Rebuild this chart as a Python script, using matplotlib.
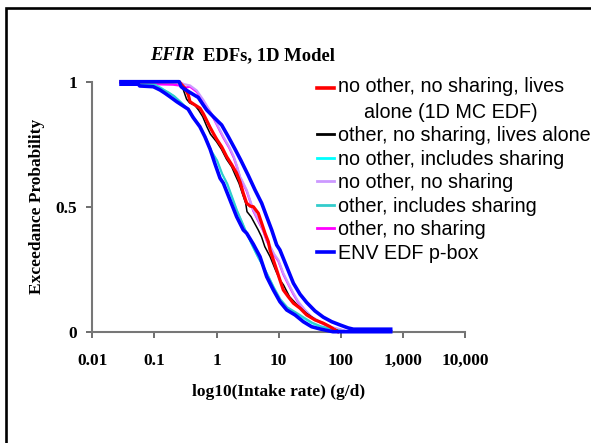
import matplotlib
matplotlib.use("Agg")
import matplotlib.pyplot as plt
from matplotlib.patches import Rectangle
from matplotlib.legend_handler import HandlerLine2D

# ---------------- data ----------------
x_ticks = [0.01, 0.1, 1, 10, 100, 1000, 10000]
x_tick_labels = ['0.01', '0.1', '1', '10', '100', '1,000', '10,000']
y_ticks = [0, 0.5, 1]
y_tick_labels = ['0', '0.5', '1']

labels = ['no other, no sharing, lives\nalone (1D MC EDF)',
          'other, no sharing, lives alone',
          'no other, includes sharing',
          'no other, no sharing',
          'other, includes sharing',
          'other, no sharing',
          'ENV EDF p-box']

red_x = [0.029, 0.25, 0.27, 0.311, 0.352, 0.374, 0.45, 0.542, 0.613, 0.695, 0.786, 0.887,
         1.007, 1.21, 1.46, 1.76, 2.11, 2.39, 2.70, 3.06, 3.5, 3.92, 4.71, 5.34, 6.04, 6.83,
         7.27, 8.23, 9.31, 10.5, 11.9, 14.3, 17.3, 22.1, 28.3, 38.5, 52.5, 67.3, 80.9, 90]
red_y = [1.0, 1.0, 0.99, 0.974, 0.947, 0.92, 0.907, 0.894, 0.872, 0.845, 0.818, 0.794,
         0.77, 0.74, 0.70, 0.668, 0.634, 0.60, 0.554, 0.514, 0.502, 0.5, 0.474, 0.434, 0.394, 0.36,
         0.327, 0.287, 0.247, 0.207, 0.167, 0.14, 0.114, 0.094, 0.067, 0.047, 0.034, 0.02, 0.007, 0.0]

black_x = [0.029, 0.25, 0.29, 0.33, 0.37, 0.45, 0.52, 0.6, 0.7, 0.8, 1.0, 1.2, 1.45, 1.75,
           2.0, 2.3, 2.6, 2.95, 3.1, 3.6, 4.1, 4.7, 5.3, 6.0, 7.3, 8.9, 10.5, 12, 15, 20,
           28, 40, 60, 80, 100]
black_y = [1.0, 1.0, 0.97, 0.93, 0.915, 0.905, 0.885, 0.86, 0.82, 0.79, 0.76, 0.73, 0.69, 0.66,
           0.627, 0.594, 0.554, 0.514, 0.48, 0.46, 0.434, 0.407, 0.38, 0.34, 0.30, 0.247, 0.207, 0.187, 0.14, 0.107,
           0.074, 0.047, 0.027, 0.01, 0.0]

cyan_x = [0.029, 0.1, 0.13, 0.16, 0.2, 0.26, 0.33, 0.42, 0.54, 0.65, 0.786, 1.007, 1.21,
          1.46, 1.76, 2.11, 2.55, 3.06, 3.70, 4.6, 5.67, 6.9, 8.23, 10.5, 13.5, 18.4, 25,
          34, 46.5, 67.3, 90, 120]
cyan_y = [0.995, 0.99, 0.975, 0.96, 0.945, 0.92, 0.895, 0.86, 0.82, 0.78, 0.73, 0.687, 0.634,
          0.594, 0.54, 0.487, 0.44, 0.394, 0.347, 0.30, 0.26, 0.22, 0.18, 0.127, 0.094, 0.074, 0.054,
          0.034, 0.02, 0.011, 0.004, 0.0]

lav_x = [0.029, 0.25, 0.3, 0.374, 0.48, 0.613, 0.738, 0.887, 1.07, 1.29, 1.6, 1.9, 2.15,
         2.39, 2.55, 3.06, 3.46, 3.92, 4.71, 5.67, 6.43, 7.5, 8.5, 9.9, 11.9, 14.3, 17.3,
         20.8, 26.6, 34.1, 46.5, 67.3, 97.5, 120, 140]
lav_y = [1.0, 1.0, 0.99, 0.985, 0.965, 0.927, 0.894, 0.86, 0.82, 0.78, 0.74, 0.70, 0.66,
         0.62, 0.607, 0.567, 0.527, 0.487, 0.447, 0.407, 0.367, 0.337, 0.31, 0.287, 0.234, 0.194, 0.154,
         0.12, 0.087, 0.06, 0.04, 0.02, 0.01, 0.003, 0.0]

teal_x = [0.029, 0.1, 0.13, 0.17, 0.21, 0.27, 0.34, 0.43, 0.55, 0.67, 0.81, 1.03, 1.24,
          1.5, 1.8, 2.15, 2.6, 3.1, 3.8, 4.7, 5.8, 7.0, 8.4, 10.7, 13.8, 18.8, 25.5,
          35, 48, 70, 95, 125]
teal_y = [0.993, 0.988, 0.972, 0.957, 0.942, 0.917, 0.892, 0.857, 0.817, 0.777, 0.727, 0.684, 0.631,
          0.591, 0.537, 0.484, 0.437, 0.391, 0.344, 0.297, 0.257, 0.217, 0.177, 0.13, 0.098, 0.078, 0.057,
          0.036, 0.022, 0.012, 0.005, 0.0]

mag_x = [0.029, 0.09, 0.2, 0.25, 0.3, 0.374, 0.48, 0.613, 0.738, 0.887, 1.07, 1.29, 1.6,
         1.9, 2.15, 2.39, 3.06, 3.92, 4.71, 5.67, 6.43, 8.5, 9.9, 11.9, 14.3, 17.3, 20.8,
         26.6, 34.1, 46.5, 67.3, 97.5, 130]
mag_y = [0.995, 0.99, 0.988, 0.985, 0.975, 0.98, 0.96, 0.922, 0.89, 0.856, 0.816, 0.776, 0.736,
         0.696, 0.656, 0.616, 0.563, 0.483, 0.443, 0.403, 0.363, 0.306, 0.283, 0.23, 0.19, 0.15, 0.116,
         0.084, 0.057, 0.037, 0.018, 0.008, 0.0]

pbox_left_x = [0.029, 0.055, 0.058, 0.096, 0.123, 0.148, 0.178, 0.229, 0.275, 0.35, 0.42,
               0.54, 0.65, 0.79, 0.95, 1.14, 1.29, 1.65, 2.11, 2.7, 3.06, 3.92, 5.02, 6.43,
               8.23, 10.5, 13.5, 18.4, 25, 34, 46.5, 60, 75, 638]
pbox_left_y = [0.99, 0.99, 0.983, 0.98, 0.967, 0.954, 0.94, 0.92, 0.907, 0.89, 0.857,
               0.82, 0.78, 0.73, 0.67, 0.614, 0.594, 0.527, 0.46, 0.407, 0.394, 0.35, 0.30, 0.22,
               0.167, 0.12, 0.087, 0.067, 0.04, 0.02, 0.011, 0.005, 0.0, 0.0]

pbox_right_x = [0.029, 0.25, 0.27, 0.29, 0.374, 0.509, 0.6, 0.695, 0.887, 1.21, 1.55,
                1.99, 2.45, 3.25, 4.17, 5.34, 6.43, 7.74, 9.31, 10.5, 13.5, 17.3, 22.1,
                28.3, 38.5, 52.5, 71.6, 97.5, 132, 160, 638]
pbox_right_y = [1.0, 1.0, 0.98, 0.974, 0.957, 0.937, 0.91, 0.887, 0.86, 0.827, 0.78,
                0.73, 0.687, 0.625, 0.567, 0.514, 0.46, 0.407, 0.347, 0.327, 0.26, 0.194, 0.15,
                0.117, 0.083, 0.058, 0.04, 0.027, 0.015, 0.01, 0.01]

# ---------------- figure ----------------
W, H = 591, 443
fig = plt.figure(figsize=(W / 100, H / 100), dpi=100)
serif = 'Liberation Serif'
sans = 'Liberation Sans'

ax = fig.add_axes([92.3 / W, 1 - 331.7 / H, (464.9 - 92.3) / W, (331.7 - 81.7) / H])
ax.set_xscale('log')
ax.set_xlim(0.01, 10000)
ax.set_ylim(0, 1)

kw = dict(clip_on=False, solid_joinstyle='round')
h_mag, = ax.plot(mag_x, mag_y, color='#FF00FF', lw=1.6, zorder=2, **kw)
h_lav, = ax.plot(lav_x, lav_y, color='#CC99FF', lw=1.6, zorder=3, **kw)
h_cyan, = ax.plot(cyan_x, cyan_y, color='#00FFFF', lw=1.2, zorder=4, **kw)
h_teal, = ax.plot(teal_x, teal_y, color='#33CCCC', lw=1.4, zorder=4, **kw)
h_black, = ax.plot(black_x, black_y, color='black', lw=1.1, zorder=5, **kw)
h_red, = ax.plot(red_x, red_y, color='#FF0000', lw=2.3, zorder=6, **kw)
h_blue, = ax.plot(pbox_left_x, pbox_left_y, color='#0000FF', lw=2.6, zorder=7, **kw)
ax.plot(pbox_right_x, pbox_right_y, color='#0000FF', lw=2.6, zorder=7, **kw)

for s in ['top', 'right']:
    ax.spines[s].set_visible(False)
for s in ['left', 'bottom']:
    ax.spines[s].set_color('#777777')
    ax.spines[s].set_linewidth(1.5)

ax.minorticks_off()
ax.set_xticks(x_ticks)
ax.set_xticklabels(x_tick_labels)
ax.set_yticks(y_ticks)
ax.set_yticklabels(y_tick_labels)
ax.tick_params(axis='x', direction='out', length=4, width=1.2, color='#555555', pad=11)
ax.tick_params(axis='y', direction='out', length=4, width=1.2, color='#555555', pad=7)
for t in ax.get_xticklabels() + ax.get_yticklabels():
    t.set_fontfamily(serif)
    t.set_fontweight('bold')
    t.set_fontsize(12.5)

fig.text(278.6 / W, 1 - 392 / H, 'log10(Intake rate) (g/d)', ha='center', va='center',
         fontfamily=serif, fontweight='bold', fontsize=12.5)
fig.text(36.6 / W, 1 - 206 / H, 'Exceedance Probability', ha='center', va='center',
         rotation=90, fontfamily=serif, fontweight='bold', fontsize=12.5)

fig.text(195 / W, 1 - 60 / H, 'EFIR', ha='right', va='baseline', fontfamily=serif,
         fontweight='bold', fontstyle='italic', fontsize=13.4)
fig.text(203 / W, 1 - 60 / H, 'EDFs, 1D Model', ha='left', va='baseline', fontfamily=serif,
         fontweight='bold', fontsize=13.4)


class RaisedLine(HandlerLine2D):
    """Legend line aligned with the first line of a two-line label."""
    def __init__(self, dy, **kwargs):
        super().__init__(**kwargs)
        self.dy = dy

    def create_artists(self, legend, orig_handle, xdescent, ydescent, width, height,
                       fontsize, trans):
        arts = super().create_artists(legend, orig_handle, xdescent, ydescent, width,
                                      height, fontsize, trans)
        for a in arts:
            a.set_ydata([y + self.dy for y in a.get_ydata()])
        return arts


handles = [h_red, h_black, h_cyan, h_lav, h_teal, h_mag, h_blue]
leg = fig.legend(handles, labels, loc='upper left', bbox_to_anchor=(316.6 / W, 1 - 77.5 / H),
                 frameon=False, prop={'family': sans, 'size': 14.2}, handlelength=0.86,
                 handletextpad=0.22, borderpad=0, borderaxespad=0, labelspacing=0.23,
                 handler_map={h_red: RaisedLine(8.6)})
leg.get_texts()[0].set_multialignment('center')
leg.get_texts()[0].set_linespacing(1.4)
for lh in leg.get_lines():
    lh.set_linewidth(2.6 if lh.get_color() in ('#FF0000', '#0000FF') else 2.0)

fig.add_artist(Rectangle((5.5 / W, -0.5), 2.0, 0.5 + (1 - 8.3 / H), transform=fig.transFigure,
                         fill=False, edgecolor='black', lw=1.9))

fig.savefig('out.png', dpi=100)
